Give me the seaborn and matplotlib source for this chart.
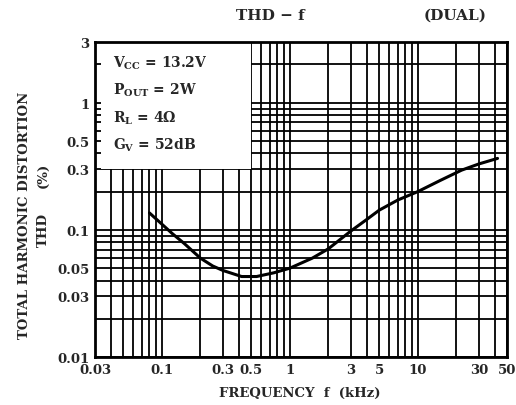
import numpy as np
import matplotlib
matplotlib.use("Agg")
import matplotlib.pyplot as plt
import matplotlib.ticker as mticker
from matplotlib.patches import Rectangle
import pandas as pd
import seaborn as sns

# curve
freq_khz = [0.08, 0.1, 0.12, 0.15, 0.2, 0.25, 0.3, 0.42, 0.55, 0.75, 1.0, 1.5, 2.0, 3.0, 4.0,
            5.0, 7.0, 10, 15, 22, 30, 42]
thd_pct = [0.136, 0.111, 0.094, 0.078, 0.060, 0.052, 0.048, 0.043, 0.043, 0.046, 0.050, 0.060,
           0.071, 0.098, 0.121, 0.143, 0.172, 0.20, 0.245, 0.295, 0.33, 0.365]

x_ticks = [0.03, 0.1, 0.3, 0.5, 1, 3, 5, 10, 30, 50]
x_labels = ["0.03", "0.1", "0.3", "0.5", "1", "3", "5", "10", "30", "50"]
y_ticks = [0.01, 0.03, 0.05, 0.1, 0.3, 0.5, 1, 3]
y_labels = ["0.01", "0.03", "0.05", "0.1", "0.3", "0.5", "1", "3"]

conditions = [r"V$_{\mathbf{CC}}$ = 13.2V", r"P$_{\mathbf{OUT}}$ = 2W",
              r"R$_{\mathbf{L}}$ = 4$\mathbf{\Omega}$", r"G$_{\mathbf{V}}$ = 52dB"]

df = pd.DataFrame({"f": freq_khz, "thd": thd_pct})

sns.set_style("white")
plt.rcParams["font.family"] = ["DejaVu Serif"]
plt.rcParams["font.weight"] = "bold"
plt.rcParams["mathtext.fontset"] = "dejavuserif"

fig = plt.figure(figsize=(5.16, 4.06), dpi=100)
ax = fig.add_axes([0.184, 0.118, 0.799, 0.776])

sns.lineplot(data=df, x="f", y="thd", ax=ax, color="black", linewidth=2.2, sort=False, zorder=3)

ax.set_xscale("log")
ax.set_yscale("log")
ax.set_xlim(0.03, 50)
ax.set_ylim(0.01, 3)

ax.xaxis.set_major_locator(mticker.FixedLocator(x_ticks))
ax.xaxis.set_major_formatter(mticker.FixedFormatter(x_labels))
ax.xaxis.set_minor_locator(mticker.LogLocator(base=10, subs=np.arange(2, 10), numticks=20))
ax.xaxis.set_minor_formatter(mticker.NullFormatter())
ax.yaxis.set_major_locator(mticker.FixedLocator(y_ticks))
ax.yaxis.set_major_formatter(mticker.FixedFormatter(y_labels))
ax.yaxis.set_minor_locator(mticker.LogLocator(base=10, subs=np.arange(2, 10), numticks=20))
ax.yaxis.set_minor_formatter(mticker.NullFormatter())

# dense log grid like the datasheet paper
ax.set_axisbelow(True)
ax.grid(True, which="both", color="black", linewidth=1.3)
ax.tick_params(which="both", direction="in", length=0, labelsize=9.5, pad=4)
for s in ax.spines.values():
    s.set_linewidth(2)
    s.set_color("black")
    s.set_zorder(4)

# white box with the test conditions (hides the grid in the corner,
# leaves short stubs at the left spine like the inner ticks)
ax.add_patch(Rectangle((0.0335, 0.303), 0.5 / 1.012 - 0.0335, 3.0 - 0.303,
                       facecolor="white", edgecolor="none", zorder=1))
for i, txt in enumerate(conditions):
    fig.text(113 / 516, 1 - (63 + 27.5 * i) / 406, txt, fontsize=10, fontweight="bold",
             va="center", ha="left", zorder=5)

ax.set_xlabel("")
ax.set_ylabel("")
fig.text(300 / 516, 1 - 393 / 406, "FREQUENCY  f  (kHz)", fontsize=9.5, ha="center", va="center")
fig.text(25 / 516, 1 - 215 / 406, "TOTAL HARMONIC DISTORTION", fontsize=9.5, rotation=90,
         ha="center", va="center")
fig.text(43 / 516, 1 - 230 / 406, "THD", fontsize=9.5, rotation=90, ha="center", va="center")
fig.text(43 / 516, 1 - 175 / 406, "(%)", fontsize=9.5, rotation=90, ha="center", va="center")

fig.text(270 / 516, 1 - 16 / 406, "THD − f", fontsize=11, ha="center", va="center")
fig.text(455 / 516, 1 - 16 / 406, "(DUAL)", fontsize=11, ha="center", va="center")

fig.savefig("out.png", dpi=100, facecolor="white")
